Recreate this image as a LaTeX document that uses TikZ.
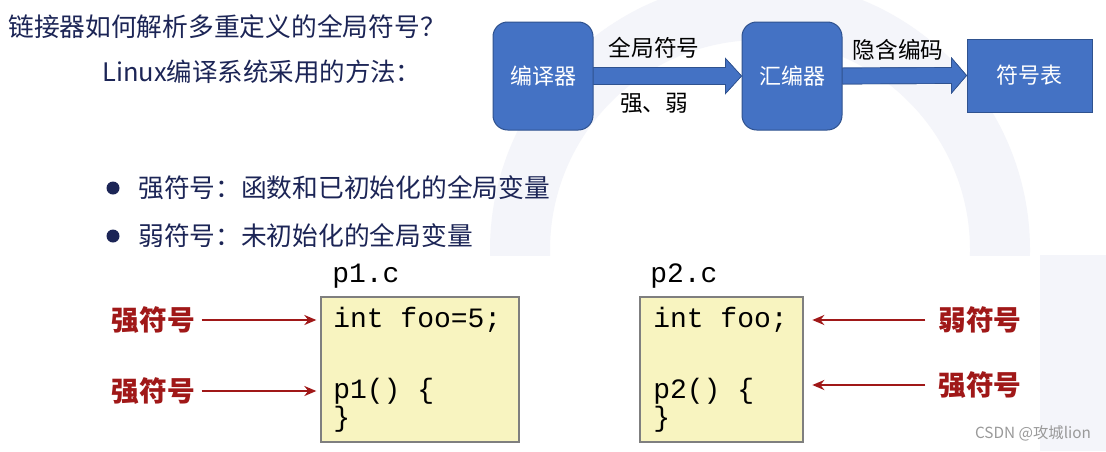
\documentclass[tikz,border=0pt]{standalone}
\usepackage{fontspec}
\setmainfont{Noto Sans CJK SC}
\setmonofont{Liberation Mono}
\usetikzlibrary{calc,arrows.meta}
\definecolor{navy}{HTML}{1C2556}
\definecolor{boxblue}{HTML}{4472C4}
\definecolor{boxedge}{HTML}{2F528F}
\definecolor{darkred}{HTML}{A01818}
\definecolor{codebg}{HTML}{F8F4C0}
\definecolor{codeedge}{HTML}{7F7F7F}
\definecolor{wm}{HTML}{F4F5FA}
\tikzset{
  flowbox/.style={draw=boxedge, line width=0.75pt, fill=boxblue, text=white, rounded corners=11pt,
    minimum width=75pt, minimum height=81pt, inner sep=0pt, font=\fontsize{16.5}{18}\selectfont},
  tablebox/.style={draw=boxedge, line width=0.75pt, fill=boxblue, text=white,
    minimum width=93.75pt, minimum height=54.75pt, inner sep=0pt, font=\fontsize{16.5}{18}\selectfont},
  blockarrow/.style={fill=boxblue, draw=boxedge, line width=0.5pt},
  arrowlabel/.style={inner sep=0pt, font=\fontsize{17}{19}\selectfont, text=black},
  navytext/.style={inner sep=0pt, text=navy},
  bulletdot/.style={circle, fill=navy, minimum size=9.75pt, inner sep=0pt},
  codebox/.style={draw=codeedge, line width=1pt, fill=codebg, minimum height=108.75pt, inner sep=0pt},
  codeline/.style={inner sep=0pt, anchor=base west, font=\ttfamily\fontsize{21}{24}\selectfont, text=black},
  redlabel/.style={inner sep=0pt, text=darkred, font=\bfseries\fontsize{20.8}{23}\selectfont},
  redarrow/.style={draw=darkred, line width=1.6pt, -{Stealth[length=9pt,width=7.5pt]}},
}
\begin{document}
\begin{tikzpicture}[x=0.75pt,y=-0.75pt]
\useasboundingbox (0,0) rectangle (1106,451);
\fill[white] (0,0) rectangle (1106,451);
% faint watermark background
\begin{scope}
\clip (0,0) rectangle (1106,255);
\draw[wm, line width=45pt] (760,250) circle[radius=240];
\end{scope}
\fill[wm] (1040,255) rectangle (1106,451);

% titles
\node[navytext, anchor=west, font=\fontsize{19.3}{21}\selectfont] (title) at (8,27) {链接器如何解析多重定义的全局符号？};
\node[navytext, anchor=west, font=\fontsize{19.1}{21}\selectfont] (sub) at (102,72) {Linux编译系统采用的方法：};

% flow
\node[flowbox] (comp) at (543,76) {编译器};
\node[flowbox] (asm) at (792,76) {汇编器};
\node[tablebox] (tab) at (1029.5,75.5) {符号表};

\fill[blockarrow] ($(comp.east)+(0,-8.5)$) -- ($(asm.west)+(-16,-8.5)$) -- ($(asm.west)+(-16,-17.5)$)
  -- (asm.west) -- ($(asm.west)+(-16,17.5)$) -- ($(asm.west)+(-16,8.5)$) -- ($(comp.east)+(0,8.5)$) -- cycle;
\draw[blockarrow] ($(comp.east)+(0,-8.5)$) -- ($(asm.west)+(-16,-8.5)$) -- ($(asm.west)+(-16,-17.5)$)
  -- (asm.west) -- ($(asm.west)+(-16,17.5)$) -- ($(asm.west)+(-16,8.5)$) -- ($(comp.east)+(0,8.5)$);
\fill[blockarrow] ($(asm.east)+(0,-8)$) -- ($(tab.west)+(-15,-8)$) -- ($(tab.west)+(-15,-17.5)$)
  -- (tab.west) -- ($(tab.west)+(-15,17.5)$) -- ($(tab.west)+(-15,8)$) -- ($(asm.east)+(0,8)$) -- cycle;
\draw[blockarrow] ($(asm.east)+(0,-8)$) -- ($(tab.west)+(-15,-8)$) -- ($(tab.west)+(-15,-17.5)$)
  -- (tab.west) -- ($(tab.west)+(-15,17.5)$) -- ($(tab.west)+(-15,8)$) -- ($(asm.east)+(0,8)$);

\node[arrowlabel] (l1) at (654,48) {全局符号};
\node[arrowlabel] (l2) at (654,103) {强、弱};
\node[arrowlabel] (l3) at (898,50) {隐含编码};

% bullets
\node[bulletdot] (d1) at (113,188) {};
\node[bulletdot] (d2) at (113,236) {};
\node[navytext, anchor=west, font=\fontsize{19.3}{22}\selectfont] (b1) at (138,188) {强符号：函数和已初始化的全局变量};
\node[navytext, anchor=west, font=\fontsize{19.3}{22}\selectfont] (b2) at (138,236) {弱符号：未初始化的全局变量};

% code boxes
\node[codeline] (p1name) at (332,282) {p1.c};
\node[codeline] (p2name) at (650,282) {p2.c};
\node[codebox, minimum width=148.5pt] (p1box) at (420,369.5) {};
\node[codebox, minimum width=122.25pt] (p2box) at (721.5,369.5) {};

\node[codeline] (c11) at (333,327) {int foo=5;};
\node[codeline] (c12) at (333,398) {p1() \{};
\node[codeline] (c13) at (333,426) {\}};
\node[codeline] (c21) at (653,327) {int foo;};
\node[codeline] (c22) at (653,398) {p2() \{};
\node[codeline] (c23) at (653,426) {\}};

% red labels
\node[redlabel, anchor=east] (s1) at (195,320) {强符号};
\node[redlabel, anchor=east] (s2) at (195,391) {强符号};
\node[redlabel, anchor=west] (w3) at (938,320) {弱符号};
\node[redlabel, anchor=west] (s4) at (938,385) {强符号};

\draw[redarrow, shorten <=5pt, shorten >=3pt] (s1.east) -- (s1.east -| p1box.west);
\draw[redarrow, shorten <=5pt, shorten >=3pt] (s2.east) -- (s2.east -| p1box.west);
\draw[redarrow, shorten <=9.5pt, shorten >=6.5pt] (w3.west) -- (w3.west -| p2box.east);
\draw[redarrow, shorten <=9.5pt, shorten >=6.5pt] (s4.west) -- (s4.west -| p2box.east);

% watermark text
\node[inner sep=0pt, text=black!40, font=\fontsize{11.5}{13}\selectfont] (csdn) at (1033,433) {CSDN @攻城lion};
\end{tikzpicture}
\end{document}
